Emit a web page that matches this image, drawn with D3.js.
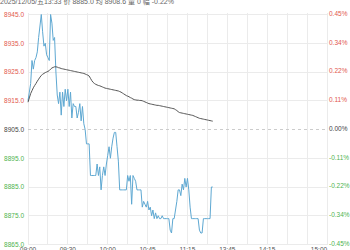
<!DOCTYPE html>
<html><head><meta charset="utf-8">
<script src="https://cdn.jsdelivr.net/npm/d3@7"></script>
<style>html,body{margin:0;padding:0;background:#fff;overflow:hidden}svg{display:block}</style>
</head><body>
<svg id="c" width="350" height="250"></svg>
<script>
const headerText = "2025/12/05/五13:33  价 8885.0  均 8908.6  量 0  幅 -0.22%";
const prevClose = 8905;
const priceTicks = [8945, 8935, 8925, 8915, 8905, 8895, 8885, 8875, 8865];
const pctLabels = ["0.45%", "0.34%", "0.22%", "0.11%", "0.00%", "-0.11%", "-0.22%", "-0.34%", "-0.45%"];
const timeLabels = ["09:00", "09:30", "10:00", "10:45", "11:15", "13:45", "14:15", "15:00"];
const timeLabelMinutes = [0, 30, 60, 90, 120, 150, 180, 225];
const totalMinutes = 225;
const price = [
8915,8918,8921,8929,8926,8929,8930,8932,8937,8941,
8945,8939,8934,8935,8931,8930,8929,8945,8942,8936,
8937,8925,8917,8914,8918,8910,8918,8913,8919,8915,
8919,8913,8918,8909,8914,8913,8913,8909,8911,8914,
8908,8913,8907,8905,8900,8900,8900,8889,8889,8889,
8889,8889,8893,8889,8892,8884,8889,8892,8889,8893,
8896,8899,8895,8899,8902,8904,8904,8899,8894,8884,
8884,8884,8884,8884,8884,8889,8887,8889,8879,8889,
8888,8887,8884,8884,8884,8884,8878,8880,8879,8878,
8880,8877,8878,8875,8877,8874,8876,8874,8875,8874,
8874,8875,8874,8874,8874,8874,8874,8870,8869,8874,
8874,8877,8880,8884,8884,8882,8886,8884,8888,8885,
8888,8884,8878,8874,8874,8874,8874,8874,8874,8870,
8869,8869,8874,8874,8874,8874,8874,8874,8885,8885
];
const avg = [
8914.5,8916.0,8917.5,8918.5,8919.5,8920.3,8921.0,8921.8,8922.5,8923.2,
8923.8,8924.2,8924.5,8924.8,8925.0,8925.2,8925.5,8926.0,8926.4,8926.6,
8926.8,8926.8,8926.7,8926.5,8926.4,8926.2,8926.1,8926.0,8925.9,8925.8,
8925.7,8925.6,8925.5,8925.4,8925.3,8925.2,8925.1,8925.0,8924.9,8924.8,
8924.7,8924.6,8924.5,8924.3,8924.1,8923.9,8923.6,8922.8,8922.0,8921.4,
8921.0,8920.7,8920.5,8920.3,8920.2,8920.0,8919.8,8919.6,8919.4,8919.3,
8919.2,8919.1,8919.0,8918.9,8918.8,8918.7,8918.6,8918.5,8918.4,8918.2,
8918.0,8917.7,8917.4,8917.1,8916.8,8916.6,8916.4,8916.1,8915.9,8915.6,
8915.4,8915.3,8915.2,8915.2,8915.1,8915.1,8915.0,8914.8,8914.6,8914.4,
8914.2,8914.0,8913.9,8913.8,8913.7,8913.6,8913.5,8913.4,8913.4,8913.3,
8913.2,8913.1,8913.0,8912.9,8912.8,8912.7,8912.6,8912.5,8912.4,8912.3,
8912.2,8911.9,8911.6,8911.2,8910.9,8910.8,8910.7,8910.6,8910.5,8910.4,
8910.3,8910.2,8910.1,8910.0,8909.9,8909.7,8909.5,8909.3,8909.1,8908.9,
8908.8,8908.7,8908.6,8908.5,8908.4,8908.3,8908.2,8908.1,8908.0,8907.9
];

const RED = "#e2574c", GREEN = "#4fb34f", ZERO = "#444";
const svg = d3.select("#c");
const font = "Arial, 'Liberation Sans', 'Noto Sans CJK SC', sans-serif";
const L = 28, R = 327, T = 14.5, B = 244.5;
const x = d3.scaleLinear().domain([0, totalMinutes]).range([L, R]);
const y = d3.scaleLinear().domain([8865, 8945]).range([B, T]);

// vertical grid every 15 minutes
const vg = d3.range(0, totalMinutes + 1, 15);
svg.append("g").selectAll("line").data(vg).join("line")
  .attr("x1", d => x(d)).attr("x2", d => x(d))
  .attr("y1", T - 2).attr("y2", B)
  .attr("stroke", "#ebebeb").attr("stroke-width", 1).attr("shape-rendering","crispEdges");
// horizontal grid
svg.append("g").selectAll("line").data(priceTicks.filter(d => d !== prevClose)).join("line")
  .attr("x1", L).attr("x2", R)
  .attr("y1", d => y(d)).attr("y2", d => y(d))
  .attr("stroke", "#ebebeb").attr("stroke-width", 1).attr("shape-rendering","crispEdges");
svg.append("line").attr("x1", L).attr("x2", R)
  .attr("y1", y(prevClose)).attr("y2", y(prevClose))
  .attr("stroke", "#cccccc").attr("stroke-dasharray", "3,3").attr("shape-rendering","crispEdges");

// left axis labels
const colorFor = d => d > prevClose ? RED : (d < prevClose ? GREEN : ZERO);
svg.append("g").selectAll("text").data(priceTicks).join("text")
  .attr("x", 24).attr("y", d => y(d)).attr("dy", "0.35em")
  .attr("text-anchor", "end").attr("font-family", font).attr("font-size", 6.5)
  .attr("fill", colorFor).text(d => d.toFixed(1));
// right axis labels
svg.append("g").selectAll("text").data(priceTicks).join("text")
  .attr("x", 329).attr("y", d => y(d) - 1).attr("dy", "0.35em")
  .attr("text-anchor", "start").attr("font-family", font).attr("font-size", 6.5)
  .attr("fill", colorFor).text((d, i) => pctLabels[i]);
// time labels
svg.append("g").selectAll("text").data(timeLabelMinutes).join("text")
  .attr("x", (d, i) => x(d) - (i === timeLabels.length - 1 ? 8 : 0)).attr("y", 251.5)
  .attr("text-anchor", "middle").attr("font-family", font).attr("font-size", 6.5)
  .attr("fill", "#555").text((d, i) => timeLabels[i]);

// lines
const line = d3.line().x((d, i) => x(i)).y(d => y(d));
svg.append("path").datum(price).attr("d", line)
  .attr("fill", "none").attr("stroke", "#5ea8d2").attr("stroke-width", 1);
svg.append("path").datum(avg).attr("d", line)
  .attr("fill", "none").attr("stroke", "#555555").attr("stroke-width", 1);

// header
svg.append("text").attr("x", 0).attr("y", 3.5)
  .attr("font-family", font).attr("font-size", 7).attr("fill", "#666").text(headerText);
</script>
</body></html>
